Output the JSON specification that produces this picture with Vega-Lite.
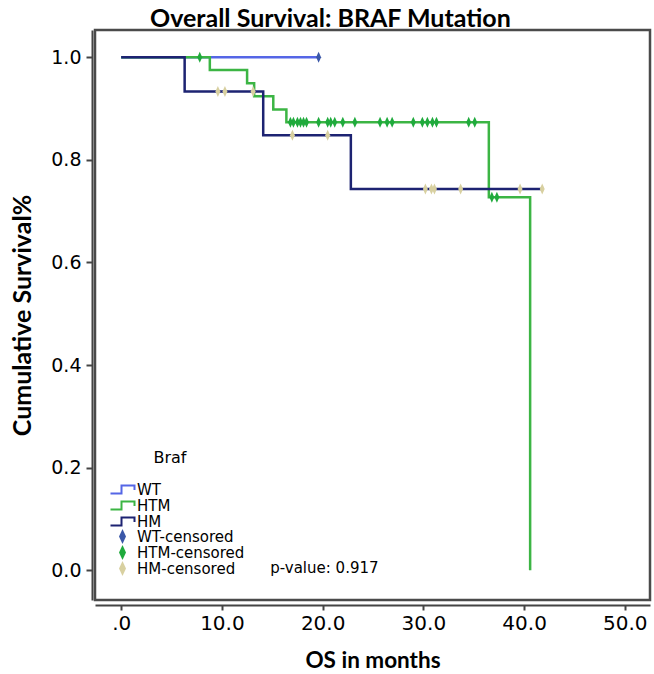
{
  "$schema": "https://vega.github.io/schema/vega-lite/v6.json",
  "autosize": "none",
  "width": 555,
  "height": 570,
  "padding": {"left": 95, "top": 30, "right": 4, "bottom": 74},
  "background": "white",
  "title": {"text": "Overall Survival: BRAF Mutation", "fontSize": 25, "font": "Lato", "fontWeight": "bold", "color": "#000", "anchor": "middle", "frame": "bounds", "offset": -2},
  "config": {
    "view": {"stroke": "#4a4a4a", "strokeWidth": 2.5},
    "axis": {"grid": false, "labelFont": "DejaVu Sans", "labelColor": "#000", "titleFont": "Lato", "titleFontWeight": "bold", "titleColor": "#000", "domainColor": "#444", "domainWidth": 2, "tickColor": "#444", "tickWidth": 2}
  },
  "datasets": {
    "curves": [
      {"series": "WT", "t": 0, "s": 1.0},
      {"series": "WT", "t": 19.6, "s": 1.0},
      {"series": "HTM", "t": 0, "s": 1.0},
      {"series": "HTM", "t": 8.8, "s": 0.975},
      {"series": "HTM", "t": 12.5, "s": 0.949},
      {"series": "HTM", "t": 13.2, "s": 0.924},
      {"series": "HTM", "t": 15.1, "s": 0.898},
      {"series": "HTM", "t": 16.4, "s": 0.873},
      {"series": "HTM", "t": 36.5, "s": 0.727},
      {"series": "HTM", "t": 40.6, "s": 0.0},
      {"series": "HM", "t": 0, "s": 1.0},
      {"series": "HM", "t": 6.3, "s": 0.933},
      {"series": "HM", "t": 14.1, "s": 0.848},
      {"series": "HM", "t": 22.8, "s": 0.743},
      {"series": "HM", "t": 41.8, "s": 0.743}
    ],
    "censored": [
      {"series": "HM-censored", "t": 9.6, "s": 0.933},
      {"series": "HM-censored", "t": 10.3, "s": 0.933},
      {"series": "HM-censored", "t": 13.1, "s": 0.933},
      {"series": "HM-censored", "t": 17.0, "s": 0.848},
      {"series": "HM-censored", "t": 20.5, "s": 0.848},
      {"series": "HM-censored", "t": 30.2, "s": 0.743},
      {"series": "HM-censored", "t": 30.8, "s": 0.743},
      {"series": "HM-censored", "t": 31.1, "s": 0.743},
      {"series": "HM-censored", "t": 33.7, "s": 0.743},
      {"series": "HM-censored", "t": 39.6, "s": 0.743},
      {"series": "HM-censored", "t": 41.8, "s": 0.743},
      {"series": "WT-censored", "t": 19.6, "s": 1.0},
      {"series": "HTM-censored", "t": 7.8, "s": 1.0},
      {"series": "HTM-censored", "t": 16.8, "s": 0.873},
      {"series": "HTM-censored", "t": 17.1, "s": 0.873},
      {"series": "HTM-censored", "t": 17.5, "s": 0.873},
      {"series": "HTM-censored", "t": 17.8, "s": 0.873},
      {"series": "HTM-censored", "t": 18.1, "s": 0.873},
      {"series": "HTM-censored", "t": 18.4, "s": 0.873},
      {"series": "HTM-censored", "t": 19.6, "s": 0.873},
      {"series": "HTM-censored", "t": 20.5, "s": 0.873},
      {"series": "HTM-censored", "t": 20.8, "s": 0.873},
      {"series": "HTM-censored", "t": 21.2, "s": 0.873},
      {"series": "HTM-censored", "t": 22.0, "s": 0.873},
      {"series": "HTM-censored", "t": 23.2, "s": 0.873},
      {"series": "HTM-censored", "t": 25.7, "s": 0.873},
      {"series": "HTM-censored", "t": 26.4, "s": 0.873},
      {"series": "HTM-censored", "t": 26.9, "s": 0.873},
      {"series": "HTM-censored", "t": 29.0, "s": 0.873},
      {"series": "HTM-censored", "t": 29.9, "s": 0.873},
      {"series": "HTM-censored", "t": 30.4, "s": 0.873},
      {"series": "HTM-censored", "t": 30.9, "s": 0.873},
      {"series": "HTM-censored", "t": 31.3, "s": 0.873},
      {"series": "HTM-censored", "t": 34.5, "s": 0.873},
      {"series": "HTM-censored", "t": 35.1, "s": 0.873},
      {"series": "HTM-censored", "t": 36.8, "s": 0.727},
      {"series": "HTM-censored", "t": 37.3, "s": 0.727}
    ],
    "notes": [
      {"t": 14.8, "s": 0.004, "label": "p-value: 0.917"}
    ]
  },
  "layer": [
    {
      "data": {"name": "curves"},
      "mark": {"type": "line", "interpolate": "step-after", "strokeWidth": 2.5},
      "encoding": {
        "x": {"field": "t", "type": "quantitative", "scale": {"domain": [-2.6, 52.5], "nice": false, "zero": false},
              "axis": {"title": "OS in months", "values": [0, 10, 20, 30, 40, 50], "labelExpr": "datum.value == 0 ? '.0' : format(datum.value, '.1f')", "labelFontSize": 20, "titleFontSize": 22.5, "offset": 5, "tickSize": 5, "labelPadding": 3, "titlePadding": 16}},
        "y": {"field": "s", "type": "quantitative", "scale": {"domain": [-0.058, 1.053], "nice": false, "zero": false},
              "axis": {"title": "Cumulative Survival%", "values": [0, 0.2, 0.4, 0.6, 0.8, 1.0], "format": ".1f", "labelFontSize": 19, "titleFontSize": 25, "offset": 3, "tickSize": 6, "labelPadding": 5, "titlePadding": 15}},
        "color": {"field": "series", "type": "nominal",
          "scale": {"domain": ["WT", "HTM", "HM"], "range": ["#5566e6", "#3cb544", "#1d2372"]},
          "legend": {"title": "Braf", "orient": "none", "legendX": 20, "legendY": 420, "padding": 0,
            "titleFont": "DejaVu Sans", "titleFontSize": 16, "titleFontWeight": "normal", "titleColor": "#000", "titleAnchor": "end", "titleAlign": "center", "titlePadding": 16,
            "labelFont": "DejaVu Sans", "labelFontSize": 15, "labelColor": "#000", "labelOffset": 7, "symbolSize": 100, "rowPadding": -2.5,
            "symbolType": "M-2.4,0.8H-0.2V-0.8H2.4V0.1", "symbolStrokeWidth": 2, "symbolFillColor": "transparent"}}
      }
    },
    {
      "data": {"name": "censored"},
      "mark": {"type": "point", "filled": true, "opacity": 1, "strokeWidth": 0, "shape": "M0,-1L0.45,0L0,1L-0.45,0Z", "size": 121},
      "encoding": {
        "x": {"field": "t", "type": "quantitative"},
        "y": {"field": "s", "type": "quantitative"},
        "fill": {"field": "series", "type": "nominal",
          "scale": {"domain": ["WT-censored", "HTM-censored", "HM-censored"], "range": ["#3a57a8", "#1faa3c", "#d8d0a0"]},
          "legend": {"title": null, "orient": "none", "legendX": 20, "legendY": 499, "padding": 0,
            "labelFont": "DejaVu Sans", "labelFontSize": 15, "labelColor": "#000", "labelOffset": 7, "symbolSize": 100, "rowPadding": 0,
            "symbolType": "M0,-1.5L0.7,0L0,1.5L-0.7,0Z", "symbolOpacity": 1, "symbolStrokeWidth": 0}}
      }
    },
    {
      "data": {"name": "notes"},
      "mark": {"type": "text", "align": "left", "baseline": "middle", "font": "DejaVu Sans", "fontSize": 15, "color": "#000"},
      "encoding": {
        "x": {"field": "t", "type": "quantitative"},
        "y": {"field": "s", "type": "quantitative"},
        "text": {"field": "label"}
      }
    }
  ]
}
